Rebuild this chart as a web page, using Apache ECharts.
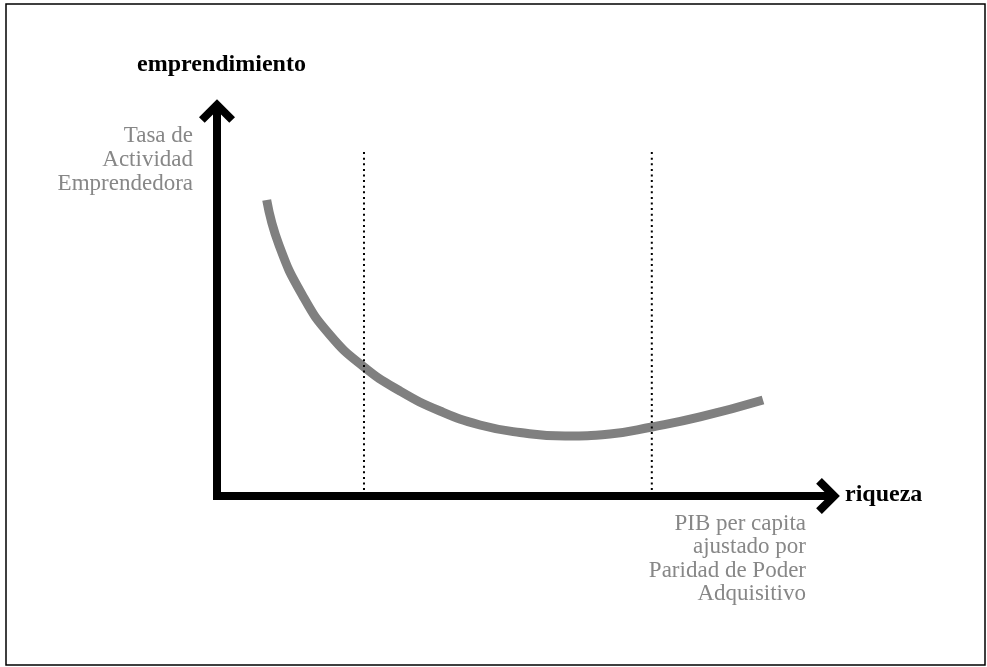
<!DOCTYPE html>
<html>
<head>
<meta charset="utf-8">
<script src="https://cdn.jsdelivr.net/npm/echarts@6/dist/echarts.min.js"></script>
<style>
html,body{margin:0;padding:0;background:#fff;}
#chart{width:987px;height:667px;}
</style>
</head>
<body>
<div id="chart"></div>
<script>
// Curve (abstract units: x = riqueza 0..100, y = emprendimiento 0..100)
const curveX = [8.08, 10.08, 13.87, 18.37, 23.90, 29.76, 36.26, 42.76, 49.27, 56.59, 63.90, 70.73, 78.54, 88.78];
const curveY = [76.09, 64.52, 51.67, 41.39, 33.16, 26.99, 21.85, 18.25, 16.32, 15.42, 15.94, 17.74, 20.31, 24.68];
// Vertical dotted dividers
const dividerX = [23.9, 70.7];
const dividerTop = 88.4;
// Texts
const yAxisTitle = 'emprendimiento';
const xAxisTitle = 'riqueza';
const yAxisNote = ['Tasa de', 'Actividad', 'Emprendedora'];
const xAxisNote = ['PIB per capita', 'ajustado por', 'Paridad de Poder', 'Adquisitivo'];

const chevron = 'path://M18,0 L36,18 L30.3,23.7 L18,11.3 L5.7,23.7 L0,18 Z';
const FONT = '"Liberation Serif", "Times New Roman", serif';

const chart = echarts.init(document.getElementById('chart'), null, {renderer: 'canvas'});

const axisCommon = {
  type: 'value', min: 0, max: 100,
  axisLabel: {show: false}, axisTick: {show: false}, splitLine: {show: false},
  axisLine: {
    show: true,
    symbol: ['none', chevron],
    symbolSize: [36, 24],
    symbolOffset: [0, -4],
    lineStyle: {color: '#000', width: 8, cap: 'square'}
  }
};

const series = [{
  type: 'line',
  data: curveX.map((x, i) => [x, curveY[i]]),
  smooth: 0.5,
  showSymbol: false,
  lineStyle: {color: '#808080', width: 9, cap: 'butt'},
  z: 2,
  silent: true
}];
dividerX.forEach(x => {
  series.push({
    type: 'line',
    data: [[x, dividerTop], [x, 0]],
    showSymbol: false,
    lineStyle: {color: '#000', width: 2, type: [2, 3.6], cap: 'butt'},
    z: 3,
    silent: true
  });
});

chart.setOption({
  animation: false,
  backgroundColor: '#fff',
  grid: {left: 217, right: 155, top: 107, bottom: 171, containLabel: false},
  xAxis: Object.assign({}, axisCommon),
  yAxis: Object.assign({}, axisCommon),
  series: series,
  graphic: [
    {type: 'rect', shape: {x: 6, y: 4, width: 979, height: 661},
     style: {fill: 'none', stroke: '#000', lineWidth: 1.5}, silent: true},
    {type: 'text', x: 221.5, y: 65, style: {text: yAxisTitle, font: 'bold 24px ' + FONT,
      fill: '#000', textAlign: 'center', textVerticalAlign: 'middle'}},
    {type: 'text', x: 845, y: 495, style: {text: xAxisTitle, font: 'bold 24px ' + FONT,
      fill: '#000', textAlign: 'left', textVerticalAlign: 'middle'}},
    {type: 'text', x: 193, y: 124, style: {text: yAxisNote.join('\n'), font: '23px ' + FONT,
      fill: '#878787', textAlign: 'right', textVerticalAlign: 'top', lineHeight: 24}},
    {type: 'text', x: 806, y: 512, style: {text: xAxisNote.join('\n'), font: '23px ' + FONT,
      fill: '#878787', textAlign: 'right', textVerticalAlign: 'top', lineHeight: 23.5}}
  ]
});
</script>
</body>
</html>
